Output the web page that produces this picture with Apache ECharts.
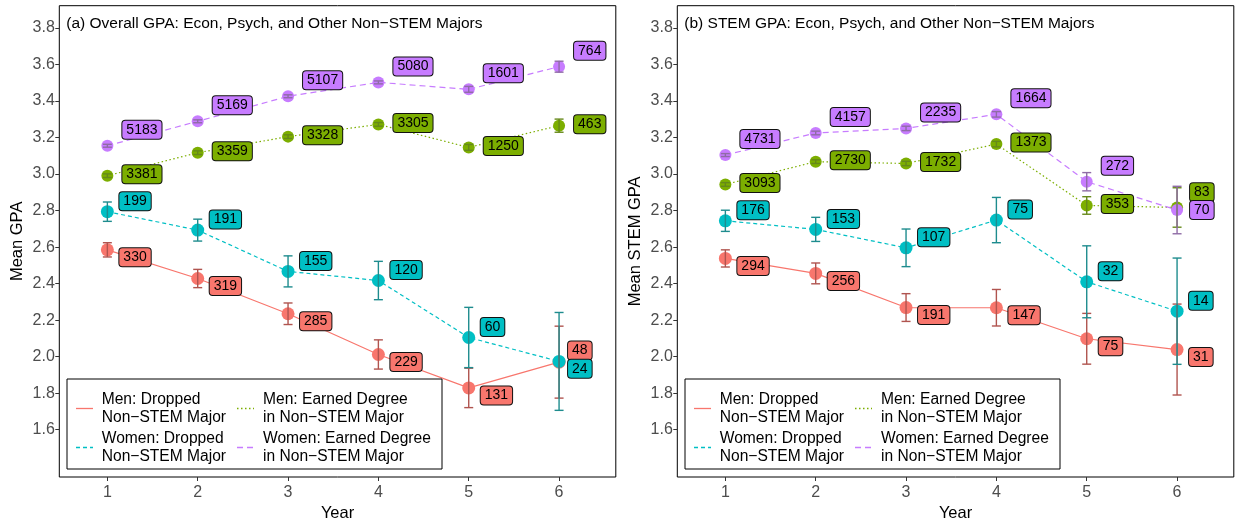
<!DOCTYPE html>
<html><head><meta charset="utf-8">
<script src="https://cdn.jsdelivr.net/npm/echarts@6/dist/echarts.min.js"></script>
<style>html,body{margin:0;padding:0;background:#fff}#c{width:1236px;height:520px}</style>
</head><body><div id="c"></div>
<script>
// ---------- DATA ----------
const years = [1, 2, 3, 4, 5, 6];
const yTicks = [1.6, 1.8, 2.0, 2.2, 2.4, 2.6, 2.8, 3.0, 3.2, 3.4, 3.6, 3.8];
const groupNames = ['Men: Dropped Non\u2212STEM Major', 'Women: Dropped Non\u2212STEM Major',
  'Men: Earned Degree in Non\u2212STEM Major', 'Women: Earned Degree in Non\u2212STEM Major'];
const panelTitles = ['(a) Overall GPA: Econ, Psych, and Other Non\u2212STEM Majors',
  '(b) STEM GPA: Econ, Psych, and Other Non\u2212STEM Majors'];
const yTitles = ['Mean GPA', 'Mean STEM GPA'];

// Panel (a) overall GPA: means, error half-widths, counts
const aMenDropped = [2.585, 2.428, 2.235, 2.012, 1.829, 1.970];
const aMenDroppedErr = [0.039, 0.050, 0.059, 0.080, 0.108, 0.197];
const aMenDroppedN = [330, 319, 285, 229, 131, 48];
const aWomenDropped = [2.794, 2.693, 2.467, 2.417, 2.105, 1.974];
const aWomenDroppedErr = [0.053, 0.060, 0.085, 0.105, 0.165, 0.268];
const aWomenDroppedN = [199, 191, 155, 120, 60, 24];
const aMenEarned = [2.991, 3.117, 3.205, 3.272, 3.146, 3.265];
const aMenEarnedErr = [0.010, 0.010, 0.010, 0.010, 0.016, 0.036];
const aMenEarnedN = [3381, 3359, 3328, 3305, 1250, 463];
const aWomenEarned = [3.155, 3.289, 3.426, 3.502, 3.464, 3.588];
const aWomenEarnedErr = [0.008, 0.008, 0.008, 0.008, 0.016, 0.030];
const aWomenEarnedN = [5183, 5169, 5107, 5080, 1601, 764];

// Panel (b) STEM GPA
const bMenDropped = [2.538, 2.456, 2.269, 2.268, 2.098, 2.039];
const bMenDroppedErr = [0.047, 0.057, 0.076, 0.100, 0.139, 0.249];
const bMenDroppedN = [294, 256, 191, 147, 75, 31];
const bWomenDropped = [2.744, 2.697, 2.596, 2.748, 2.410, 2.249];
const bWomenDroppedErr = [0.058, 0.066, 0.103, 0.124, 0.197, 0.291];
const bWomenDroppedN = [176, 153, 107, 75, 32, 14];
const bMenEarned = [2.943, 3.068, 3.058, 3.164, 2.828, 2.817];
const bMenEarnedErr = [0.010, 0.010, 0.012, 0.015, 0.048, 0.108];
const bMenEarnedN = [3093, 2730, 1732, 1373, 353, 83];
const bWomenEarned = [3.104, 3.225, 3.250, 3.327, 2.958, 2.803];
const bWomenEarnedErr = [0.008, 0.010, 0.012, 0.015, 0.050, 0.130];
const bWomenEarnedN = [4731, 4157, 2235, 1664, 272, 70];

// ---------- STYLE ----------
const FONT = "'Liberation Sans', Arial, Helvetica, sans-serif";
const colors = ['#F8766D', '#00BFC4', '#7CAE00', '#C77CFF'];
const errColors = ['#B0544F', '#1E8C8E', '#66891A', '#8F6CA6'];
const lineTypes = ['solid', [4, 3], [1.5, 2.5], [6, 4]];
const symSizes = [13, 13, 12, 12];
const labelDist = [5.5, 5.5, 9, 9];
const labelDy = [7.5, -10.5, -1.5, -16];
// repelled label placements: panel-group-yearIndex -> [dx, dy]
const labelOverrides = {
  '0-0-5': [-3, -11.7], '0-1-5': [-3, 7.3],
  '1-2-5': [-2, -15.3], '1-3-5': [-2, 0]
};

const panels = [
  { means: [aMenDropped, aWomenDropped, aMenEarned, aWomenEarned],
    errs: [aMenDroppedErr, aWomenDroppedErr, aMenEarnedErr, aWomenEarnedErr],
    ns: [aMenDroppedN, aWomenDroppedN, aMenEarnedN, aWomenEarnedN] },
  { means: [bMenDropped, bWomenDropped, bMenEarned, bWomenEarned],
    errs: [bMenDroppedErr, bWomenDroppedErr, bMenEarnedErr, bWomenEarnedErr],
    ns: [bMenDroppedN, bWomenDroppedN, bMenEarnedN, bWomenEarnedN] }
];

const gridLefts = [59.3, 677.3];
const gridTop = 5.7, gridW = 556.5, gridH = 471.3;

const grids = [], xAxes = [], yAxes = [], series = [], titles = [], graphics = [];
const dashOf = t => (t === 'solid' ? 'solid' : t.slice());

panels.forEach((p, pi) => {
  grids.push({ left: gridLefts[pi], top: gridTop, width: gridW, height: gridH,
    outerBoundsMode: 'none', containLabel: false,
    show: true, borderColor: '#000', borderWidth: 1, backgroundColor: 'transparent' });
  xAxes.push({ type: 'value', gridIndex: pi, min: 0.468, max: 6.628,
    name: 'Year', nameLocation: 'middle', nameGap: 21,
    nameTextStyle: { fontSize: 16.5, color: '#000', fontFamily: FONT },
    axisLine: { show: false },
    axisTick: { show: true, customValues: years, length: 4, lineStyle: { color: '#333' } },
    axisLabel: { customValues: years, color: '#4D4D4D', fontSize: 16, margin: 7.5, fontFamily: FONT },
    splitLine: { show: false } });
  yAxes.push({ type: 'value', gridIndex: pi, min: 1.341, max: 3.922,
    name: yTitles[pi], nameLocation: 'middle', nameGap: 33.5,
    nameTextStyle: { fontSize: 16.5, color: '#000', fontFamily: FONT },
    axisLine: { show: false },
    axisTick: { show: true, customValues: yTicks, length: 4, lineStyle: { color: '#333' } },
    axisLabel: { customValues: yTicks, formatter: v => v.toFixed(1), color: '#4D4D4D',
      fontSize: 16, margin: 4.5, fontFamily: FONT },
    splitLine: { show: false } });
  titles.push({ text: panelTitles[pi], left: gridLefts[pi] + 2, top: 11,
    textStyle: { fontSize: 15.5, fontWeight: 'normal', color: '#000', fontFamily: FONT } });

  // lines with points and count labels
  p.means.forEach((m, gi) => {
    const ns = p.ns[gi];
    series.push({
      type: 'line', name: groupNames[gi], xAxisIndex: pi, yAxisIndex: pi,
      symbol: 'circle', symbolSize: symSizes[gi], showSymbol: true,
      itemStyle: { color: colors[gi] },
      lineStyle: { color: colors[gi], width: 1.2, type: dashOf(lineTypes[gi]) },
      z: 2,
      label: { show: true, position: 'right', distance: labelDist[gi],
        formatter: prm => String(ns[prm.dataIndex]),
        color: '#000', fontSize: 14, fontFamily: FONT, backgroundColor: colors[gi],
        borderColor: '#111', borderWidth: 1, borderRadius: 3, padding: [2, 4, 1, 4], lineHeight: 15 },
      labelLayout: prm => {
        const o = labelOverrides[pi + '-' + gi + '-' + prm.dataIndex];
        return o ? { dx: o[0], dy: o[1], hideOverlap: false }
                 : { dx: 0, dy: labelDy[gi], hideOverlap: false };
      },
      data: years.map((x, i) => [x, m[i]])
    });
  });
  // error bars
  p.means.forEach((m, gi) => {
    const e = p.errs[gi];
    const col = errColors[gi];
    series.push({
      type: 'custom', name: groupNames[gi] + ' err', xAxisIndex: pi, yAxisIndex: pi, z: 3,
      encode: { x: 0, y: [1, 2] },
      silent: true,
      renderItem: (params, api) => {
        const x = api.value(0);
        const top = api.coord([x, api.value(2)]);
        const bot = api.coord([x, api.value(1)]);
        const w = 4.5;
        const st = { stroke: col, lineWidth: 1.4, fill: null };
        return { type: 'group', children: [
          { type: 'line', shape: { x1: top[0], y1: top[1], x2: bot[0], y2: bot[1] }, style: st },
          { type: 'line', shape: { x1: top[0] - w, y1: top[1], x2: top[0] + w, y2: top[1] }, style: st },
          { type: 'line', shape: { x1: bot[0] - w, y1: bot[1], x2: bot[0] + w, y2: bot[1] }, style: st }
        ] };
      },
      data: years.map((x, i) => [x, m[i] - e[i], m[i] + e[i]])
    });
  });

  // legend box drawn with graphic elements
  const off = gridLefts[pi] - gridLefts[0];
  const lx = 67 + off, ly = 379;
  const keyCols = [76 + off, 237 + off], textCols = [101.7 + off, 263 + off], rows = [408.5, 447.5];
  const legendOrder = [[0, 0, 0], [1, 0, 1], [2, 1, 0], [3, 1, 1]]; // group, col, row
  graphics.push({ type: 'rect', z: 50, shape: { x: lx, y: ly, width: 375, height: 90 },
    style: { fill: '#fff', stroke: '#000', lineWidth: 1 } });
  const legendTexts = ['Men: Dropped\nNon\u2212STEM Major', 'Women: Dropped\nNon\u2212STEM Major',
    'Men: Earned Degree\nin Non\u2212STEM Major', 'Women: Earned Degree\nin Non\u2212STEM Major'];
  legendOrder.forEach(([g, c, r]) => {
    const kx = keyCols[c], ky = rows[r];
    const dash = lineTypes[g] === 'solid' ? null : lineTypes[g].slice();
    graphics.push({ type: 'line', z: 51, shape: { x1: kx, y1: ky, x2: kx + 17, y2: ky },
      style: { stroke: colors[g], lineWidth: 1.3, lineDash: dash } });
    graphics.push({ type: 'text', z: 51, x: textCols[c], y: ky,
      style: { text: legendTexts[g], fill: '#000', font: '15.6px ' + FONT, lineHeight: 17.5,
        textVerticalAlign: 'middle', verticalAlign: 'middle', textAlign: 'left' } });
  });
});

const chart = echarts.init(document.getElementById('c'), null, { renderer: 'canvas' });
chart.setOption({
  animation: false,
  backgroundColor: '#fff',
  textStyle: { fontFamily: FONT },
  title: titles,
  grid: grids,
  xAxis: xAxes,
  yAxis: yAxes,
  series: series,
  graphic: graphics
});
</script>
</body></html>
